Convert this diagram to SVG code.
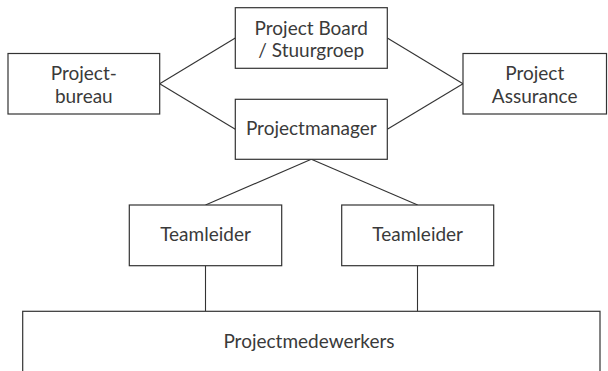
<svg xmlns="http://www.w3.org/2000/svg" width="608" height="371" viewBox="0 0 608 371">
  <style>
    .box { fill: #ffffff; stroke: #333333; stroke-width: 1.2; }
    .edge { fill: none; stroke: #333333; stroke-width: 1.1; }
    .label { font-family: Lato, "Open Sans", "Liberation Sans", sans-serif; font-size: 19px; fill: #3a3a3a; text-anchor: middle; }
  </style>
  <rect width="608" height="371" fill="#ffffff"/>

  <!-- connectors -->
  <g id="connectors">
    <line class="edge" x1="159.7" y1="83.7" x2="235.3" y2="38"/>
    <line class="edge" x1="159.7" y1="83.7" x2="235.3" y2="129.3"/>
    <line class="edge" x1="387.3" y1="38" x2="463" y2="83.7"/>
    <line class="edge" x1="387.3" y1="129.3" x2="463" y2="83.7"/>
    <line class="edge" x1="311.3" y1="159.3" x2="205.5" y2="205"/>
    <line class="edge" x1="311.3" y1="159.3" x2="417.7" y2="205"/>
    <line class="edge" x1="205.5" y1="265.7" x2="205.5" y2="311.3"/>
    <line class="edge" x1="417.5" y1="265.7" x2="417.5" y2="311.3"/>
  </g>

  <g id="projectbureau">
    <rect class="box" x="8" y="53.5" width="151.7" height="60.5"/>
    <text class="label" x="83.8" y="80">Project-</text>
    <text class="label" x="83.8" y="103">bureau</text>
  </g>

  <g id="projectboard">
    <rect class="box" x="235.3" y="7.7" width="152" height="60.6"/>
    <text class="label" x="311.3" y="34.5">Project Board</text>
    <text class="label" x="311.3" y="57">/ Stuurgroep</text>
  </g>

  <g id="projectmanager">
    <rect class="box" x="235.3" y="99.3" width="152" height="60"/>
    <text class="label" x="311.3" y="135">Projectmanager</text>
  </g>

  <g id="projectassurance">
    <rect class="box" x="463" y="53.5" width="143.5" height="60.5"/>
    <text class="label" x="534.7" y="80">Project</text>
    <text class="label" x="534.7" y="103">Assurance</text>
  </g>

  <g id="teamleider1">
    <rect class="box" x="129.3" y="205" width="152.4" height="60.7"/>
    <text class="label" x="205.5" y="241">Teamleider</text>
  </g>

  <g id="teamleider2">
    <rect class="box" x="341.7" y="205" width="152" height="60.7"/>
    <text class="label" x="417.7" y="241">Teamleider</text>
  </g>

  <g id="projectmedewerkers">
    <rect class="box" x="22.7" y="311.3" width="577.3" height="80"/>
    <text class="label" x="309" y="348.3">Projectmedewerkers</text>
  </g>
</svg>
